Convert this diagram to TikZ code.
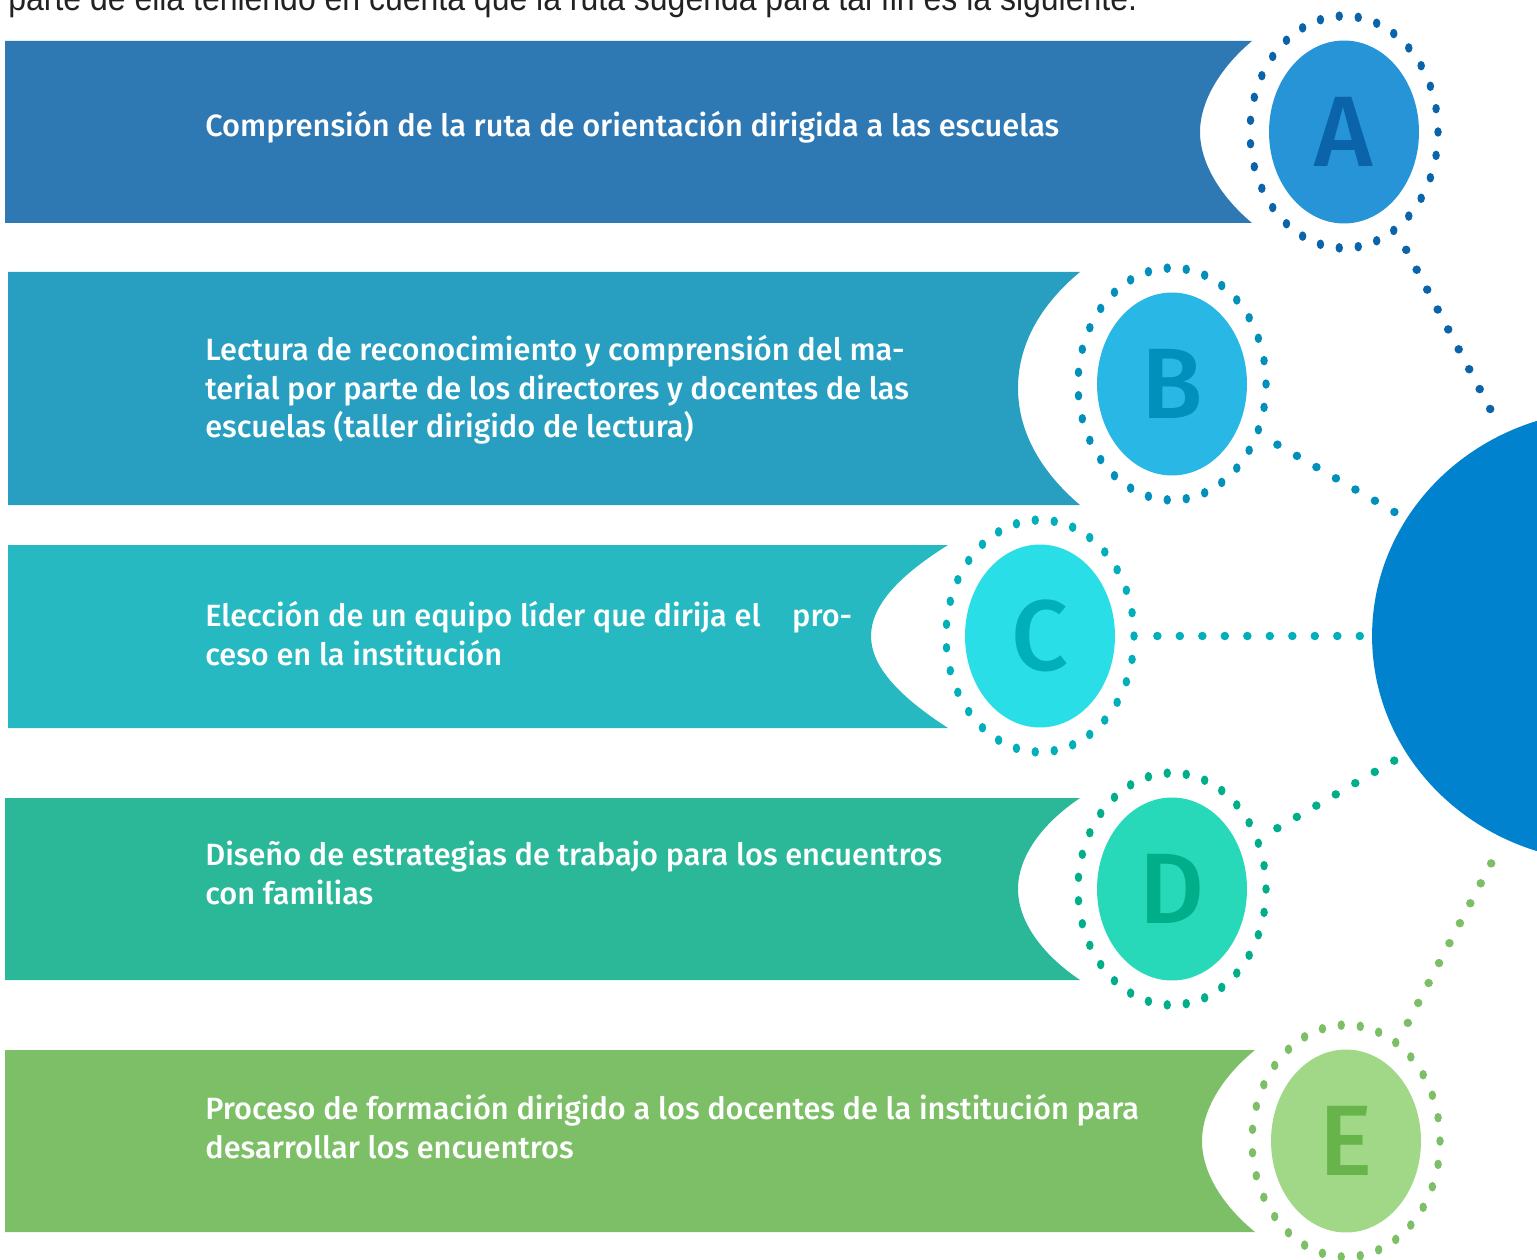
\documentclass[tikz,border=0pt]{standalone}
\usepackage{fontspec}
\setmainfont{Fira Sans}[UprightFont=* Medium, BoldFont=* Bold]
\newfontfamily\leadfont{Liberation Sans}
\usepackage{xcolor}
\usetikzlibrary{shapes.geometric}

\definecolor{barA}{HTML}{2E78B3}
\definecolor{barB}{HTML}{289FC1}
\definecolor{barC}{HTML}{26B9C1}
\definecolor{barD}{HTML}{2AB898}
\definecolor{barE}{HTML}{7CBF67}
\definecolor{ballA}{HTML}{2794D8}
\definecolor{ballB}{HTML}{29B7E5}
\definecolor{ballC}{HTML}{29DEE6}
\definecolor{ballD}{HTML}{28D9B9}
\definecolor{ballE}{HTML}{A0D887}
\definecolor{dotA}{HTML}{0B63A9}
\definecolor{dotB}{HTML}{0090BB}
\definecolor{dotC}{HTML}{00AFBA}
\definecolor{dotD}{HTML}{00AE89}
\definecolor{dotE}{HTML}{7CBF67}
\definecolor{markA}{HTML}{0B63A9}
\definecolor{markB}{HTML}{0090BB}
\definecolor{markC}{HTML}{00AFBA}
\definecolor{markD}{HTML}{00AE89}
\definecolor{markE}{HTML}{67B54A}
\definecolor{hubblue}{HTML}{0082CF}
\definecolor{leadgray}{HTML}{222222}

\begin{document}
\begin{tikzpicture}[x=0.02cm, y=-0.02cm,
    ball/.style={ellipse, minimum width=3cm, minimum height=3.66cm, inner sep=0pt,
        font=\fontsize{57pt}{57pt}\selectfont},
    ring/.style={ellipse, minimum width=3.76cm, minimum height=4.64cm, inner sep=0pt},
    stepnote/.style={anchor=north west, inner sep=0pt, align=left, text=white,
        font=\fontsize{17.5pt}{22pt}\selectfont},
    link/.style={line width=0.17cm, line cap=round, dash pattern=on 0pt off 0.45cm,
        shorten <=0.46cm, shorten >=0.1cm}]
    \useasboundingbox (0,0) rectangle (1537,1260);

    % text above the figure, cut by the page
    \node[anchor=base west, inner sep=0pt, text=leadgray, xscale=0.91,
        font=\leadfont\fontsize{20pt}{24pt}\selectfont] (lead) at (8,11)
        {parte de ella teniendo en cuenta que la ruta sugerida para tal fin es la siguiente.};

    % bars
    \fill[barA] (5,41) -- (1252,41) .. controls (1222,66) and (1200,100) .. (1200,132)
        .. controls (1200,164) and (1222,198) .. (1252,223) -- (5,223) -- cycle;
    \fill[barB] (8,272) -- (1080,272) .. controls (1040,305) and (1018,345) .. (1018,388)
        .. controls (1018,431) and (1040,471) .. (1080,505) -- (8,505) -- cycle;
    \fill[barC] (8,545) -- (948,545) .. controls (900,575) and (871,605) .. (871,636)
        .. controls (871,667) and (900,697) .. (948,728) -- (8,728) -- cycle;
    \fill[barD] (5,798) -- (1080,798) .. controls (1040,825) and (1018,858) .. (1018,889)
        .. controls (1018,920) and (1040,953) .. (1080,980) -- (5,980) -- cycle;
    \fill[barE] (5,1050) -- (1255,1050) .. controls (1222,1077) and (1202,1110) .. (1202,1141)
        .. controls (1202,1172) and (1222,1205) .. (1255,1232) -- (5,1232) -- cycle;

    \node[stepnote] (noteA) at (205,109)
        {\strut Comprensión de la ruta de orientación dirigida a las escuelas};
    \node[stepnote] (noteB) at (205,333)
        {\strut Lectura de reconocimiento y comprensión del ma-\\
         terial por parte de los directores y docentes de las\\
         escuelas (taller dirigido de lectura)};
    \node[stepnote] (noteC) at (205,599)
        {\strut Elección de un equipo líder que dirija el\hspace{18pt}pro-\\
         ceso en la institución};
    \node[stepnote] (noteD) at (205,838)
        {\strut Diseño de estrategias de trabajo para los encuentros\\
         con familias};
    \node[stepnote] (noteE) at (205,1092)
        {\strut Proceso de formación dirigido a los docentes de la institución para\\
         desarrollar los encuentros};

    % letters in their dotted rings
    \foreach \k/\cx/\cy in {A/1344/132, B/1172/384, C/1040/636, D/1172/889, E/1346/1141}{
        \node[ring] (ring\k) at (\cx,\cy) {};
        \node[ball, fill=ball\k, text=mark\k] (ball\k) at (\cx,\cy) {\k};
        \foreach \t in {0,...,30}
            \fill[dot\k] ({\cx+94*cos(\t*360/31)},{\cy+116*sin(\t*360/31)})
                ellipse [x radius=0.075cm, y radius=0.095cm];
    }

    \node[ellipse, fill=hubblue, minimum width=9.52cm, minimum height=9.04cm,
        inner sep=0pt] (hub) at (1610,636) {};

    \draw[link, dotA, shorten >=0.5cm] (ringA) -- (hub);
    \draw[link, dotB] (ringB) -- (hub);
    \draw[link, dotC] (ringC) -- (hub);
    \draw[link, dotD] (ringD) -- (hub);
    \draw[link, dotE, shorten >=0.5cm] (ringE) -- (hub);
\end{tikzpicture}
\end{document}
